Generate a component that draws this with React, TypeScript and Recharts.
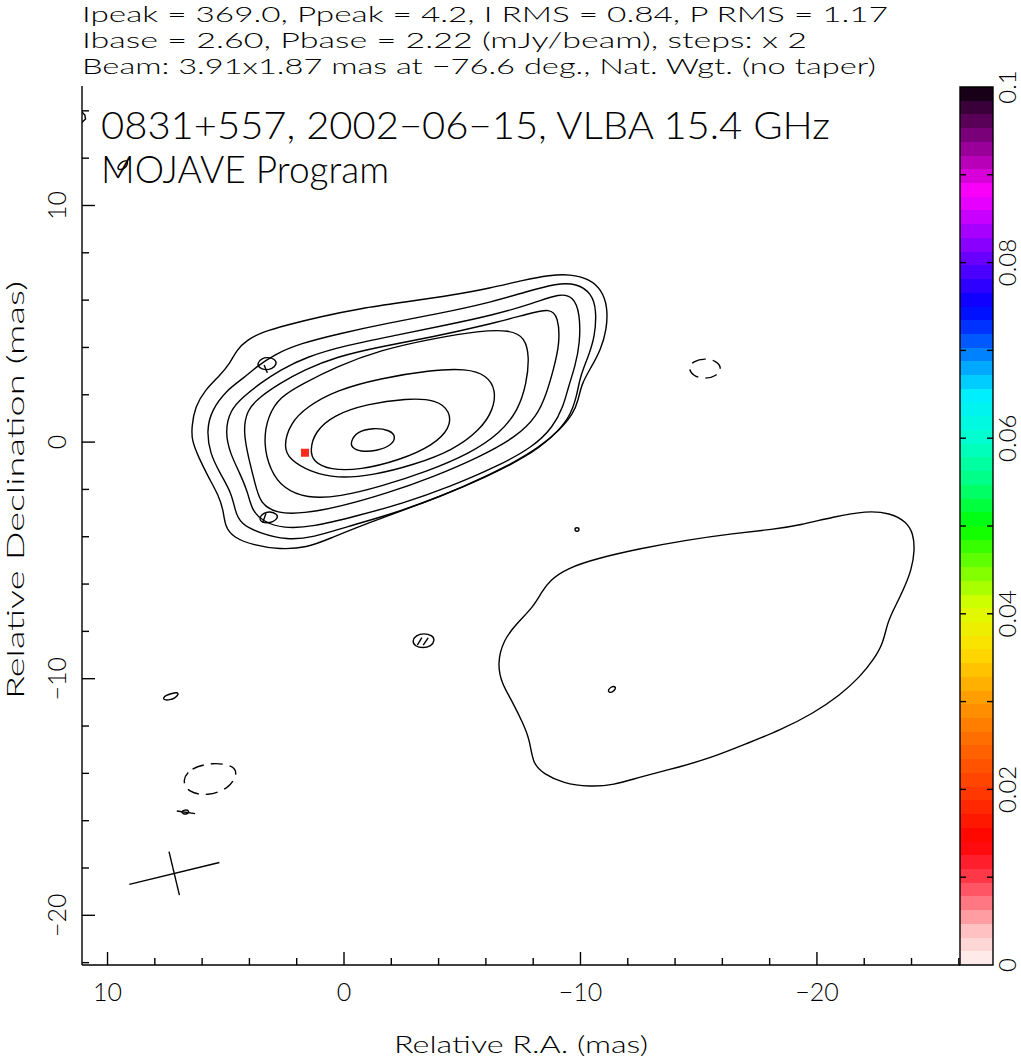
import React from 'react';
import { ComposedChart, Scatter, XAxis, YAxis, BarChart, Bar } from 'recharts';

type Pt = [number, number];

// axis ticks (mas)
const X_TICKS = [10, 8, 6, 4, 2, 0, -2, -4, -6, -8, -10, -12, -14, -16, -18, -20, -22, -24, -26];
const Y_TICKS = [14, 12, 10, 8, 6, 4, 2, 0, -2, -4, -6, -8, -10, -12, -14, -16, -18, -20, -22];
const X_DOMAIN: [number, number] = [-26.05, 11.08];
const Y_DOMAIN: [number, number] = [-22.1, 15.05];

// colour bar
const CBAR_TICKS = [0, 0.01, 0.02, 0.03, 0.04, 0.05, 0.06, 0.07, 0.08, 0.09, 0.1];
const CBAR_LABELS = ['0', '0.02', '0.04', '0.06', '0.08', '0.1'];
const CBAR_STOPS: [number, string][] = [
  [0.0, '#fff4f4'], [0.004, '#ffc0c0'], [0.008, '#ff6070'], [0.011, '#ff2838'], [0.014, '#ff0000'],
  [0.02, '#ff3c00'], [0.026, '#ff7000'], [0.031, '#ffa400'], [0.036, '#ffe000'], [0.041, '#d8ff00'],
  [0.046, '#60ff00'], [0.05, '#00ff00'], [0.055, '#00ff80'], [0.06, '#00ffd0'], [0.065, '#00eeff'],
  [0.069, '#0090ff'], [0.072, '#0040ff'], [0.075, '#0000ff'], [0.08, '#6000ff'], [0.084, '#b000ff'],
  [0.088, '#ff00ff'], [0.091, '#c000c0'], [0.095, '#700070'], [0.1, '#080008'],
];

// Stokes I contours, outermost first
const C1: Pt[] = [[6.44,0.65],[6.30,1.49],[5.88,2.20],[5.24,2.83],[4.82,3.33],[4.54,3.89],[4.12,4.31],[3.41,4.67],[2.42,4.95],[1.01,5.30],[-0.68,5.65],[-2.65,5.93],[-4.62,6.22],[-6.17,6.50],[-7.58,6.85],[-8.71,7.06],[-9.56,7.10],[-10.40,6.88],[-10.89,6.43],[-11.15,5.72],[-11.11,4.74],[-10.85,3.89],[-10.47,3.19],[-10.05,2.48],[-9.91,1.78],[-9.70,1.21],[-9.13,0.51],[-8.29,-0.20],[-6.88,-1.04],[-5.05,-1.89],[-2.93,-2.73],[-0.96,-3.44],[0.59,-4.07],[1.58,-4.47],[2.71,-4.54],[3.83,-4.36],[4.68,-4.03],[5.03,-3.58],[5.10,-2.88],[5.31,-2.24],[5.74,-1.47],[6.16,-0.62],[6.44,0.08]];
const C2: Pt[] = [[5.81,0.51],[5.60,1.35],[4.96,2.20],[4.26,2.69],[3.69,3.19],[2.99,3.68],[1.86,4.17],[0.17,4.59],[-1.80,5.02],[-4.06,5.44],[-6.03,5.86],[-7.72,6.36],[-8.99,6.71],[-9.84,6.71],[-10.47,6.29],[-10.68,5.58],[-10.61,4.45],[-10.33,3.61],[-9.98,2.76],[-9.84,1.92],[-9.56,1.07],[-8.85,0.23],[-7.72,-0.62],[-6.03,-1.47],[-4.06,-2.31],[-2.09,-3.02],[-0.11,-3.58],[1.30,-4.03],[2.42,-4.14],[3.55,-3.86],[4.40,-3.44],[4.61,-2.88],[4.75,-2.17],[5.24,-1.32],[5.67,-0.48]];
const C3: Pt[] = [[5.03,0.44],[4.82,1.35],[4.26,1.92],[3.55,2.48],[2.71,3.04],[1.58,3.61],[-0.11,4.10],[-2.23,4.52],[-4.34,4.95],[-6.31,5.37],[-8.01,5.86],[-9.13,6.29],[-9.70,6.15],[-9.98,5.44],[-9.98,4.17],[-9.77,3.19],[-9.49,2.34],[-9.27,1.49],[-8.85,0.65],[-8.01,-0.20],[-6.46,-1.04],[-4.48,-1.89],[-2.51,-2.59],[-0.39,-3.16],[1.30,-3.58],[2.57,-3.65],[3.41,-3.37],[3.90,-2.88],[4.05,-2.17],[4.40,-1.32],[4.82,-0.48]];
const C4: Pt[] = [[4.26,0.44],[4.12,1.35],[3.55,1.92],[2.71,2.48],[1.72,3.04],[0.31,3.61],[-1.52,4.03],[-3.78,4.45],[-6.03,4.95],[-7.86,5.44],[-8.71,5.65],[-9.06,5.30],[-9.13,4.17],[-8.85,3.04],[-8.57,2.06],[-8.15,1.07],[-7.30,0.23],[-5.75,-0.62],[-3.78,-1.47],[-1.80,-2.17],[0.17,-2.73],[1.72,-3.02],[2.85,-3.02],[3.55,-2.59],[3.76,-1.75],[4.05,-0.62]];
const C5: Pt[] = [[3.41,-0.06],[3.24,1.07],[2.71,1.92],[1.72,2.48],[0.31,3.19],[-1.52,3.89],[-3.78,4.38],[-5.75,4.71],[-7.02,4.74],[-7.65,4.43],[-7.84,3.61],[-7.72,2.48],[-7.37,1.35],[-6.60,0.37],[-5.33,-0.48],[-3.50,-1.25],[-1.52,-1.89],[0.17,-2.31],[1.58,-2.38],[2.57,-1.96],[3.13,-1.18]];
const C6: Pt[] = [[2.57,-0.20],[2.28,0.79],[1.58,1.49],[0.31,2.20],[-1.52,2.69],[-3.64,3.04],[-5.19,3.11],[-6.03,2.83],[-6.43,2.20],[-6.31,1.35],[-5.75,0.51],[-4.62,-0.34],[-2.93,-0.97],[-1.24,-1.40],[0.31,-1.54],[1.44,-1.25],[2.28,-0.76]];
const C7: Pt[] = [[1.44,-0.34],[1.23,0.44],[0.45,1.14],[-0.96,1.61],[-2.65,1.85],[-3.92,1.80],[-4.51,1.28],[-4.48,0.58],[-3.78,-0.13],[-2.37,-0.76],[-0.68,-1.18],[0.59,-1.18],[1.30,-0.83]];
const C8: Pt[] = [[-0.28,0.01],[-0.54,0.44],[-1.24,0.61],[-1.95,0.51],[-2.20,0.23],[-2.02,-0.13],[-1.38,-0.38],[-0.68,-0.41],[-0.32,-0.23]];
const BLOB: Pt[] = [[-6.48,-9.36],[-6.74,-8.37],[-7.30,-7.67],[-8.01,-6.96],[-8.36,-6.33],[-8.71,-5.84],[-9.41,-5.34],[-10.68,-4.92],[-12.52,-4.50],[-14.49,-4.14],[-16.46,-3.86],[-18.15,-3.69],[-19.28,-3.51],[-20.69,-3.16],[-22.10,-2.90],[-23.09,-2.99],[-23.79,-3.37],[-24.07,-3.86],[-24.14,-4.57],[-24.00,-5.41],[-23.65,-6.26],[-23.23,-7.10],[-22.97,-7.67],[-22.80,-8.51],[-22.38,-9.22],[-21.82,-9.92],[-20.97,-10.70],[-19.84,-11.47],[-18.44,-12.18],[-17.03,-12.74],[-15.62,-13.31],[-14.21,-13.73],[-12.52,-14.15],[-11.39,-14.50],[-10.40,-14.57],[-9.27,-14.43],[-8.43,-14.01],[-7.98,-13.59],[-7.86,-12.60],[-7.58,-11.90],[-7.09,-10.91],[-6.67,-10.20]];

// small islands
const E1: Pt[] = [[3.68,3.34],[3.47,3.55],[3.21,3.59],[2.92,3.51],[2.83,3.30],[3.04,3.09],[3.34,3.04],[3.59,3.13]];
const E2: Pt[] = [[3.59,-3.21],[3.42,-3.00],[3.13,-2.92],[2.83,-3.04],[2.79,-3.21],[3.00,-3.38],[3.30,-3.42],[3.51,-3.38]];
const E3: Pt[] = [[-9.73,-3.68],[-9.85,-3.59],[-9.98,-3.68],[-9.85,-3.81]];
const E5: Pt[] = [[-2.88,-8.41],[-3.04,-8.16],[-3.38,-8.08],[-3.72,-8.16],[-3.85,-8.37],[-3.68,-8.63],[-3.34,-8.71],[-3.00,-8.63]];
const E6: Pt[] = [[-11.16,-10.49],[-11.29,-10.34],[-11.46,-10.32],[-11.50,-10.42],[-11.37,-10.57],[-11.20,-10.59]];
const E7: Pt[] = [[6.98,-10.66],[7.15,-10.82],[7.36,-10.90],[7.61,-10.90],[7.65,-10.82],[7.53,-10.70],[7.27,-10.62],[7.06,-10.57]];
const E9: Pt[] = [[6.93,-15.64],[6.72,-15.52],[6.51,-15.60],[6.68,-15.77]];
const E10: Pt[] = [[9.60,11.59],[9.43,11.84],[9.18,11.92],[9.13,11.75],[9.30,11.54],[9.51,11.50]];
// negative contours (dashed)
const N1: Pt[] = [[-14.55,3.13],[-14.76,3.42],[-15.26,3.55],[-15.77,3.42],[-15.98,3.13],[-15.77,2.79],[-15.26,2.66],[-14.76,2.79]];
const N2: Pt[] = [[6.85,-14.29],[6.51,-13.78],[5.54,-13.53],[4.74,-13.66],[4.48,-13.95],[4.82,-14.63],[5.79,-14.97],[6.60,-14.80]];
// short open strokes (polarisation ticks, edge arc)
const T1: Pt[] = [[3.38,3.26],[3.24,2.93]];
const T2: Pt[] = [[3.30,-3.02],[3.44,-3.41]];
const H1: Pt[] = [[-3.10,-8.58],[-3.29,-8.26]];
const H2: Pt[] = [[-3.35,-8.58],[-3.56,-8.27]];
const T9: Pt[] = [[7.07,-15.59],[6.30,-15.70]];
const EDGE: Pt[] = [[11.08,13.95],[10.96,13.82],[10.93,13.66],[11.08,13.52]];
// beam cross
const BEAM_A: Pt[] = [[9.08,-18.69],[5.27,-17.77]];
const BEAM_B: Pt[] = [[7.40,-17.31],[6.96,-19.15]];
// fractional polarisation pixel
const POL: Pt[] = [[1.65,-0.45]];

const SOLID_LOOPS = [C1, C2, C3, C4, C5, C6, C7, C8, BLOB, E1, E2, E3, E5, E6, E7, E9, E10];
const DASHED_LOOPS = [N1, N2];
const OPEN_LINES = [T1, T2, H1, H2, T9, EDGE, BEAM_A, BEAM_B];

const FONT = "Lato, 'Open Sans', 'Liberation Sans', Arial, sans-serif";
const WEIGHT = 300;
const INK = '#000';
const SW = 1.4;

const toXY = (pts: Pt[]) => pts.map(([x, y]) => ({ x, y }));
const fmt = (v: number) => (v < 0 ? '\u2212' + Math.abs(v) : String(v));
const noShape = () => <g />;

function BottomTick({ x, y, payload }: any) {
  const major = payload.value % 10 === 0;
  return (
    <g>
      <line x1={x} x2={x} y1={y} y2={y - (major ? 13 : 7)} stroke={INK} strokeWidth={SW} />
      {major && (
        <text x={x} y={y + 36} textAnchor="middle" fontFamily={FONT} fontWeight={WEIGHT} fontSize={25} fill={INK}>
          {fmt(payload.value)}
        </text>
      )}
    </g>
  );
}

function TopTick({ x, y, payload }: any) {
  const major = payload.value % 10 === 0;
  return <line x1={x} x2={x} y1={y} y2={y + (major ? 13 : 7)} stroke={INK} strokeWidth={SW} />;
}

function LeftTick({ x, y, payload }: any) {
  const major = payload.value % 10 === 0;
  const lx = 66;
  return (
    <g>
      <line x1={x} x2={x + (major ? 13 : 7)} y1={y} y2={y} stroke={INK} strokeWidth={SW} />
      {major && (
        <text x={lx} y={y} transform={`rotate(-90 ${lx} ${y})`} textAnchor="middle" fontFamily={FONT} fontWeight={WEIGHT} fontSize={25} fill={INK}>
          {fmt(payload.value)}
        </text>
      )}
    </g>
  );
}

function RightTick({ x, y, payload }: any) {
  const major = payload.value % 10 === 0;
  return <line x1={x} x2={x - (major ? 13 : 7)} y1={y} y2={y} stroke={INK} strokeWidth={SW} />;
}

function CbarTick({ x, y, index }: any) {
  const inner = index > 0 && index < CBAR_TICKS.length - 1;
  const lx = 1016;
  return (
    <g>
      {inner && <line x1={x - 33} x2={x - 27} y1={y} y2={y} stroke={INK} strokeWidth={SW} />}
      {inner && <line x1={x - 6} x2={x} y1={y} y2={y} stroke={INK} strokeWidth={SW} />}
      {index % 2 === 0 && (
        <text x={lx} y={y} transform={`rotate(-90 ${lx} ${y})`} textAnchor="middle" fontFamily={FONT} fontWeight={WEIGHT} fontSize={24} fill={INK}>
          {CBAR_LABELS[index / 2]}
        </text>
      )}
    </g>
  );
}

// stepped colour table
function hex(c: string) {
  return [1, 3, 5].map((i) => parseInt(c.slice(i, i + 2), 16));
}
function colourAt(v: number) {
  for (let i = 1; i < CBAR_STOPS.length; i++) {
    const [v1, c1] = CBAR_STOPS[i];
    const [v0, c0] = CBAR_STOPS[i - 1];
    if (v <= v1) {
      const t = (v - v0) / (v1 - v0);
      const a = hex(c0);
      const b = hex(c1);
      return `rgb(${a.map((p, k) => Math.round(p + (b[k] - p) * t)).join(',')})`;
    }
  }
  return CBAR_STOPS[CBAR_STOPS.length - 1][1];
}
const BANDS = 64;
const gradientStops: React.ReactNode[] = [];
for (let i = 0; i < BANDS; i++) {
  const col = colourAt(((i + 0.5) / BANDS) * 0.1);
  gradientStops.push(<stop key={`a${i}`} offset={i / BANDS} stopColor={col} />);
  gradientStops.push(<stop key={`b${i}`} offset={(i + 1) / BANDS} stopColor={col} />);
}

const axisLine = { stroke: INK, strokeWidth: SW };
const HEAD = 21.5;

export default function App() {
  return (
    <div style={{ position: 'absolute', left: 0, top: 0, width: 1021, height: 1060, background: '#fff' }}>
      <div style={{ position: 'absolute', left: 0, top: 0 }}>
        <ComposedChart width={1021} height={1060} margin={{ top: 86, right: 61, bottom: 0, left: 0 }}>
          <XAxis xAxisId="b" type="number" dataKey="x" domain={X_DOMAIN} reversed allowDataOverflow ticks={X_TICKS}
            interval={0} height={95} tickSize={0} tickMargin={0} tickLine={false} axisLine={axisLine} tick={<BottomTick />} />
          <XAxis xAxisId="t" orientation="top" type="number" dataKey="x" domain={X_DOMAIN} reversed allowDataOverflow ticks={X_TICKS}
            interval={0} height={0} tickSize={0} tickMargin={0} tickLine={false} axisLine={axisLine} tick={<TopTick />} />
          <YAxis yAxisId="l" type="number" dataKey="y" domain={Y_DOMAIN} allowDataOverflow ticks={Y_TICKS}
            interval={0} width={82} tickSize={0} tickMargin={0} tickLine={false} axisLine={axisLine} tick={<LeftTick />} />
          <YAxis yAxisId="r" orientation="right" type="number" dataKey="y" domain={Y_DOMAIN} allowDataOverflow ticks={Y_TICKS}
            interval={0} width={0} tickSize={0} tickMargin={0} tickLine={false} axisLine={axisLine} tick={<RightTick />} />
          {SOLID_LOOPS.map((pts, i) => (
            <Scatter key={`s${i}`} xAxisId="b" yAxisId="l" data={toXY(pts)} fill={INK} shape={noShape}
              line={{ stroke: INK, strokeWidth: SW }} lineJointType="basisClosed" isAnimationActive={false} />
          ))}
          {DASHED_LOOPS.map((pts, i) => (
            <Scatter key={`d${i}`} xAxisId="b" yAxisId="l" data={toXY(pts)} fill={INK} shape={noShape}
              line={{ stroke: INK, strokeWidth: SW, strokeDasharray: '12 7' }} lineJointType="basisClosed" isAnimationActive={false} />
          ))}
          {OPEN_LINES.map((pts, i) => (
            <Scatter key={`o${i}`} xAxisId="b" yAxisId="l" data={toXY(pts)} fill={INK} shape={noShape}
              line={{ stroke: INK, strokeWidth: SW }} lineJointType="linear" isAnimationActive={false} />
          ))}
          <Scatter xAxisId="b" yAxisId="l" data={toXY(POL)} fill="#ff2a1a" isAnimationActive={false}
            shape={(p: any) => <rect x={p.cx - 4} y={p.cy - 4} width={8} height={8} fill="#ff2a1a" />} />
        </ComposedChart>
      </div>
      <div style={{ position: 'absolute', left: 0, top: 0 }}>
        <BarChart width={1021} height={1060} data={[{ k: 'cb', v: 0.1 }]} margin={{ top: 87, right: 0, bottom: 95, left: 960 }} barCategoryGap={0}>
          <defs>
            <linearGradient id="cbar" x1="0" y1="1" x2="0" y2="0">
              {gradientStops}
            </linearGradient>
          </defs>
          <XAxis dataKey="k" hide />
          <YAxis orientation="right" type="number" domain={[0, 0.1]} ticks={CBAR_TICKS} interval={0} width={28}
            tickSize={0} tickMargin={0} tickLine={false} axisLine={false} tick={<CbarTick />} />
          <Bar dataKey="v" fill="url(#cbar)" stroke={INK} strokeWidth={SW} isAnimationActive={false} />
        </BarChart>
      </div>
      <svg width={1021} height={1060} style={{ position: 'absolute', left: 0, top: 0, pointerEvents: 'none' }}
        fontFamily={FONT} fontWeight={WEIGHT} fill={INK}>
        <text x={82} y={22} fontSize={HEAD} textLength={806} lengthAdjust="spacingAndGlyphs">
          Ipeak = 369.0, Ppeak = 4.2, I RMS = 0.84, P RMS = 1.17
        </text>
        <text x={82} y={48} fontSize={HEAD} textLength={725} lengthAdjust="spacingAndGlyphs">
          Ibase = 2.60, Pbase = 2.22 (mJy/beam), steps: x 2
        </text>
        <text x={82} y={74} fontSize={HEAD} textLength={794} lengthAdjust="spacingAndGlyphs">
          Beam: 3.91x1.87 mas at {'\u2212'}76.6 deg., Nat. Wgt. (no taper)
        </text>
        <text x={101} y={139} fontSize={37} textLength={729} lengthAdjust="spacingAndGlyphs">
          0831+557, 2002{'\u2212'}06{'\u2212'}15, VLBA 15.4 GHz
        </text>
        <text x={101} y={183} fontSize={37} textLength={288} lengthAdjust="spacingAndGlyphs">
          MOJAVE Program
        </text>
        <text x={521} y={1053} fontSize={24} textAnchor="middle" textLength={254} lengthAdjust="spacingAndGlyphs">
          Relative R.A. (mas)
        </text>
        <text x={24} y={490} fontSize={24} textAnchor="middle" transform="rotate(-90 24 490)" textLength={418} lengthAdjust="spacingAndGlyphs">
          Relative Declination (mas)
        </text>
      </svg>
    </div>
  );
}
